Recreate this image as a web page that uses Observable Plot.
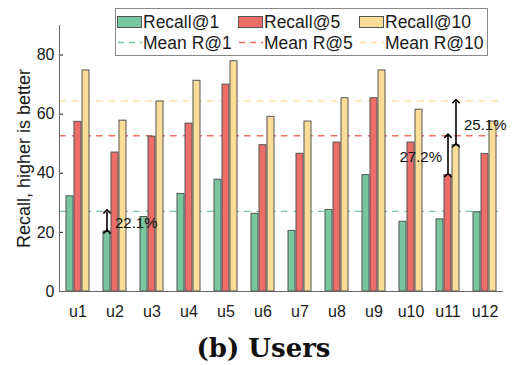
<!DOCTYPE html>
<html>
<head>
<meta charset="utf-8">
<script src="https://cdn.jsdelivr.net/npm/d3@7"></script>
<script src="https://cdn.jsdelivr.net/npm/@observablehq/plot@0.6"></script>
<style>
  html, body { margin: 0; padding: 0; background: #fff; }
  #wrap { position: relative; width: 513px; height: 365px; overflow: hidden; }
  #legend { position: absolute; left: 0; top: 0; }
  #title {
    position: absolute; left: 7px; width: 513px; top: 331px;
    text-align: center; font-family: "DejaVu Serif", serif;
    font-weight: 700; font-size: 26px; color: #111; line-height: 34px;
  }
</style>
</head>
<body>
<div id="wrap">
  <div id="chart"></div>
  <svg id="legend" width="513" height="70"></svg>
  <div id="title">(b) Users</div>
</div>
<script>
// Per-user recall scores (%)
const users = ["u1", "u2", "u3", "u4", "u5", "u6", "u7", "u8", "u9", "u10", "u11", "u12"];
const seriesNames = ["Recall@1", "Recall@5", "Recall@10"];
const recall1 = [32.2, 20.3, 25.2, 33.0, 37.8, 26.3, 20.5, 27.6, 39.4, 23.6, 24.4, 26.8];
const recall5 = [57.4, 47.0, 52.4, 56.8, 70.0, 49.5, 46.6, 50.4, 65.4, 50.4, 39.4, 46.5];
const recall10 = [74.8, 57.8, 64.3, 71.3, 77.9, 59.1, 57.5, 65.4, 74.8, 61.5, 49.5, 57.5];

// Mean over all users, one per recall level
const meanNames = ["Mean R@1", "Mean R@5", "Mean R@10"];
const meanValues = [27.1, 52.7, 64.4];

const colors = ["#78C79F", "#ED6E69", "#FCDD97"];
const yTicks = [0, 20, 40, 60, 80];
const gapLabels = ["22.1%", "27.2%", "25.1%"];

const seriesValues = [recall1, recall5, recall10];
const rows = users.flatMap((u, i) =>
  seriesNames.map((s, j) => ({user: u, series: s, value: seriesValues[j][i]}))
);
const means = seriesNames.map((s, j) => ({series: s, value: meanValues[j]}));

// Gap between a bar and its series mean
const gaps = [
  {user: "u2", series: "Recall@1", y1: recall1[1], y2: meanValues[0], label: gapLabels[0], side: "right"},
  {user: "u11", series: "Recall@5", y1: recall5[10], y2: meanValues[1], label: gapLabels[1], side: "left"},
  {user: "u11", series: "Recall@10", y1: recall10[10], y2: meanValues[2], label: gapLabels[2], side: "right"}
];

const font = "'Liberation Sans', Arial, Helvetica, sans-serif";

const chart = Plot.plot({
  width: 513,
  height: 322,
  marginTop: 25,
  marginBottom: 31,
  marginLeft: 53,
  marginRight: 5,
  style: {fontFamily: font, fontSize: "16px", color: "#1a1a1a", background: "#fff", overflow: "visible"},
  fx: {domain: users, padding: 0, label: null, tickSize: 0, tickPadding: 14},
  x: {domain: seriesNames, paddingInner: 0.146, paddingOuter: 0.88, axis: null},
  y: {domain: [0, 90], ticks: yTicks, tickSize: -4, tickPadding: 9, label: null},
  color: {domain: seriesNames, range: colors},
  marks: [
    // dashed means sit behind the bars; one dash period is a third of a user slot
    Plot.ruleY(means, {y: "value", stroke: "series", strokeWidth: 1.3, strokeDasharray: "6.6,6.04"}),
    Plot.barY(rows, {fx: "user", x: "series", y: "value", fill: "series", stroke: "#555", strokeWidth: 1}),
    Plot.ruleY([0], {stroke: "#666"}),
    Plot.frame({anchor: "left", facetAnchor: "left", stroke: "#666"}),
    Plot.link(gaps, {fx: "user", x1: "series", x2: "series", y1: "y1", y2: "y2",
      stroke: "#000", strokeWidth: 1.6, markerStart: "arrow", markerEnd: "arrow"}),
    Plot.text(gaps.filter(d => d.side === "right"), {fx: "user", x: "series", y: d => (d.y1 + d.y2) / 2,
      text: "label", textAnchor: "start", dx: 8, dy: 2, fontSize: 15, fill: "#111"}),
    Plot.text(gaps.filter(d => d.side === "left"), {fx: "user", x: "series", y: d => (d.y1 + d.y2) / 2,
      text: "label", textAnchor: "end", dx: -6, dy: 2, fontSize: 15, fill: "#111"}),
    Plot.text(["Recall, higher is better"], {text: d => d, frameAnchor: "left", textAnchor: "middle",
      rotate: -90, dx: -35, fontSize: 18, facetAnchor: "left", fill: "#1a1a1a"})
  ]
});
document.getElementById("chart").append(chart);

// Legend box: swatches for bars, dashed samples for means
const legend = d3.select("#legend").style("font-family", font);
legend.append("rect")
  .attr("x", 115.5).attr("y", 8.5).attr("width", 372).attr("height", 47)
  .attr("fill", "#fff").attr("stroke", "#888").attr("stroke-width", 1);
const colX = [117, 238, 359];
seriesNames.forEach((s, i) => {
  legend.append("rect")
    .attr("x", colX[i] + 0.5).attr("y", 16.5).attr("width", 24).attr("height", 11)
    .attr("fill", colors[i]).attr("stroke", "#555");
  legend.append("text")
    .attr("x", colX[i] + 26).attr("y", 22).attr("dy", "0.35em")
    .attr("font-size", 17.5).attr("fill", "#1a1a1a").text(s);
});
meanNames.forEach((s, i) => {
  legend.append("line")
    .attr("x1", colX[i] + 1).attr("x2", colX[i] + 25).attr("y1", 42.5).attr("y2", 42.5)
    .attr("stroke", colors[i]).attr("stroke-width", 1.3).attr("stroke-dasharray", "6,5");
  legend.append("text")
    .attr("x", colX[i] + 26).attr("y", 43).attr("dy", "0.35em")
    .attr("font-size", 17.5).attr("fill", "#1a1a1a").text(s);
});
</script>
</body>
</html>
